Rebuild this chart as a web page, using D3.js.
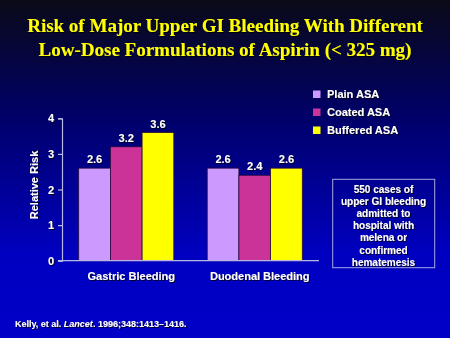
<!DOCTYPE html>
<html><head><meta charset="utf-8">
<script src="https://cdn.jsdelivr.net/npm/d3@7"></script>
<style>html,body{margin:0;padding:0;background:#000;}svg{display:block;}</style>
</head><body>
<script>
const categories = ["Gastric Bleeding", "Duodenal Bleeding"];
const seriesNames = ["Plain ASA", "Coated ASA", "Buffered ASA"];
const plainASA = [2.6, 2.6];
const coatedASA = [3.2, 2.4];
const bufferedASA = [3.6, 2.6];
const yTicks = [0, 1, 2, 3, 4];
const colors = ["#CC99FF", "#CC3399", "#FFFF00"];
const titleLines = ["Risk of Major Upper GI Bleeding With Different", "Low-Dose Formulations of Aspirin (< 325 mg)"];
const noteLines = ["550 cases of", "upper GI bleeding", "admitted to", "hospital with", "melena or", "confirmed", "hematemesis"];

const W = 450, H = 338;
const svg = d3.select("body").append("svg").attr("width", W).attr("height", H);
const defs = svg.append("defs");
const g = defs.append("linearGradient").attr("id", "bg").attr("x1", 0).attr("y1", 0).attr("x2", 0).attr("y2", 1);
g.append("stop").attr("offset", "0").attr("stop-color", "#0a0a18");
g.append("stop").attr("offset", "0.35").attr("stop-color", "#00006a");
g.append("stop").attr("offset", "0.75").attr("stop-color", "#0000c0");
g.append("stop").attr("offset", "1").attr("stop-color", "#0000c8");
const f = defs.append("filter").attr("id", "sh").attr("x", "-10%").attr("y", "-10%").attr("width", "130%").attr("height", "140%");
f.append("feDropShadow").attr("dx", 1).attr("dy", 1).attr("stdDeviation", 0).attr("flood-color", "#000000").attr("flood-opacity", 0.8);

svg.append("rect").attr("width", W).attr("height", H).attr("fill", "url(#bg)");

// Title
svg.append("g").selectAll("text").data(titleLines).join("text")
  .attr("x", 225).attr("y", (d, i) => 31.5 + i * 24)
  .attr("text-anchor", "middle")
  .attr("font-family", "'Liberation Serif', 'Times New Roman', serif")
  .attr("font-weight", "bold").attr("font-size", 19)
  .attr("fill", "#FFFF00").attr("filter", "url(#sh)")
  .text(d => d);

const x0 = 62, x1 = 319, yTop = 118.3, yBot = 260.7;
const x = d3.scaleBand().domain(categories).range([x0, x1]).paddingInner(0.26).paddingOuter(0.13);
const xs = d3.scaleBand().domain(seriesNames).range([0, x.bandwidth()]);
const y = d3.scaleLinear().domain([0, 4]).range([yBot, yTop]);

const data = categories.map((c, i) => ({cat: c, vals: [plainASA[i], coatedASA[i], bufferedASA[i]]}));

// Bars
const grp = svg.append("g").selectAll("g").data(data).join("g")
  .attr("transform", d => `translate(${x(d.cat)},0)`);
grp.selectAll("rect").data(d => d.vals.map((v, j) => ({v, s: seriesNames[j], j}))).join("rect")
  .attr("x", d => xs(d.s)).attr("width", xs.bandwidth())
  .attr("y", d => y(d.v)).attr("height", d => y(0) - y(d.v))
  .attr("fill", d => colors[d.j]).attr("stroke", "#2a0a3a").attr("stroke-width", 0.8);
grp.selectAll("text").data(d => d.vals.map((v, j) => ({v, s: seriesNames[j]}))).join("text")
  .attr("x", d => xs(d.s) + xs.bandwidth() / 2).attr("y", d => y(d.v) - 5)
  .attr("text-anchor", "middle")
  .attr("font-family", "'Liberation Sans', Arial, sans-serif").attr("font-weight", "bold").attr("font-size", 11)
  .attr("fill", "#fff").attr("filter", "url(#sh)")
  .text(d => d.v.toFixed(1));

// Axes
const yAxis = svg.append("g").attr("transform", `translate(${x0},0)`)
  .call(d3.axisLeft(y).tickValues(yTicks).tickSize(4).tickFormat(d3.format("d")));
yAxis.select(".domain").attr("stroke", "#b8b8e8").attr("stroke-width", 1.2);
yAxis.selectAll(".tick line").attr("stroke", "#b8b8e8").attr("stroke-width", 1.2);
yAxis.selectAll(".tick text").attr("fill", "#fff").attr("font-size", 11).attr("font-weight", "bold")
  .attr("font-family", "'Liberation Sans', Arial, sans-serif").attr("x", -8).attr("filter", "url(#sh)");

const xAxis = svg.append("g").attr("transform", `translate(0,${yBot})`)
  .call(d3.axisBottom(x).tickSize(0).tickPadding(9));
xAxis.select(".domain").attr("stroke", "#b8b8e8").attr("stroke-width", 1.2).attr("d", `M${x0 - 4},0H${x1}`);
xAxis.selectAll(".tick text").attr("fill", "#fff").attr("font-size", 11).attr("font-weight", "bold")
  .attr("font-family", "'Liberation Sans', Arial, sans-serif").attr("dx", 5).attr("dy", "0.9em").attr("filter", "url(#sh)");

svg.append("text").attr("transform", "translate(38,185) rotate(-90)")
  .attr("text-anchor", "middle")
  .attr("font-family", "'Liberation Sans', Arial, sans-serif").attr("font-weight", "bold").attr("font-size", 11)
  .attr("fill", "#fff").attr("filter", "url(#sh)")
  .text("Relative Risk");

// Legend
const lg = svg.append("g").selectAll("g").data(seriesNames).join("g")
  .attr("transform", (d, i) => `translate(313,${90.5 + i * 18})`);
lg.append("rect").attr("width", 7.5).attr("height", 7.5).attr("fill", (d, i) => colors[i]);
lg.append("text").attr("x", 14).attr("y", 4).attr("dy", "0.35em")
  .attr("font-family", "'Liberation Sans', Arial, sans-serif").attr("font-weight", "bold").attr("font-size", 11)
  .attr("fill", "#fff").attr("filter", "url(#sh)").text(d => d);

// Note box
svg.append("rect").attr("x", 332.7).attr("y", 179.3).attr("width", 102).attr("height", 88.4)
  .attr("fill", "none").attr("stroke", "#a8a8e0").attr("stroke-width", 1);
svg.append("g").selectAll("text").data(noteLines).join("text")
  .attr("x", 383.5).attr("y", (d, i) => 189.5 + i * 12.1).attr("dy", "0.35em")
  .attr("text-anchor", "middle")
  .attr("font-family", "'Liberation Sans', Arial, sans-serif").attr("font-weight", "bold").attr("font-size", 10)
  .attr("fill", "#fff").attr("filter", "url(#sh)").text(d => d);

// Footnote
const fn = svg.append("text").attr("x", 15).attr("y", 326.5)
  .attr("font-family", "'Liberation Sans', Arial, sans-serif").attr("font-weight", "bold").attr("font-size", 9)
  .attr("fill", "#fff").attr("filter", "url(#sh)");
fn.append("tspan").text("Kelly, et al. ");
fn.append("tspan").attr("font-style", "italic").text("Lancet");
fn.append("tspan").text(". 1996;348:1413\u20131416.");
</script>
</body></html>
